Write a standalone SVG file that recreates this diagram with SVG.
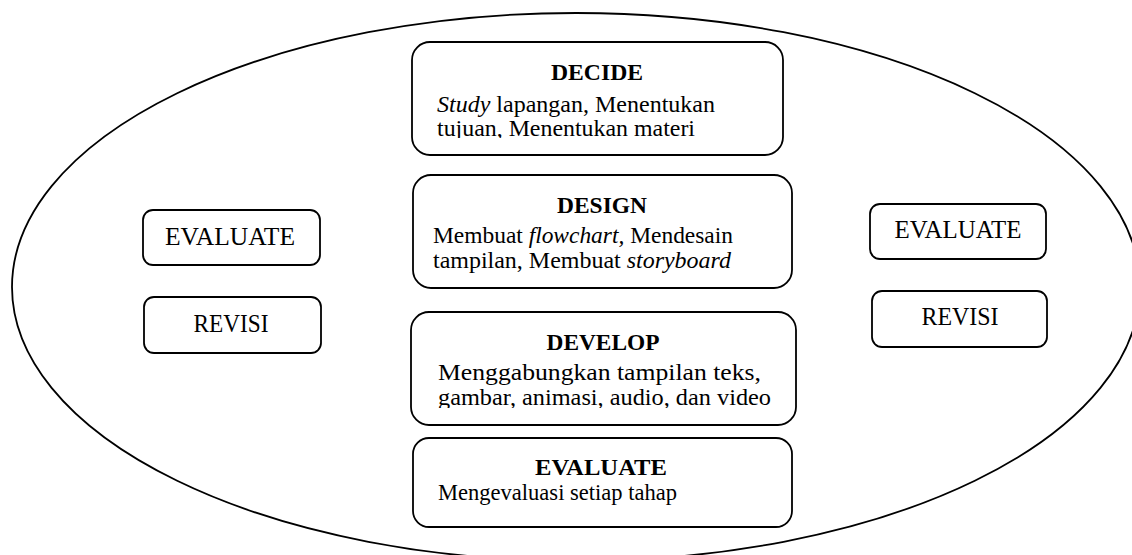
<svg xmlns="http://www.w3.org/2000/svg" width="1132" height="555" viewBox="0 0 1132 555">
<style>
.box{fill:#fff;stroke:#000;stroke-width:1.8}
.t{font-family:"Liberation Serif","Times New Roman",serif;fill:#000}
.title{font-size:24px;font-weight:bold;text-anchor:middle}
.body{font-size:24px}
.side{font-size:25px;text-anchor:middle}
.i{font-style:italic}
</style>
<defs>
<clipPath id="clipDecide"><rect x="400" y="30" width="400" height="108"/></clipPath>
<clipPath id="clipDevelop"><rect x="400" y="300" width="400" height="108"/></clipPath>
</defs>
<rect width="1132" height="555" fill="#fff"/>
<g id="outer">
<ellipse cx="576" cy="287" rx="564" ry="274" fill="none" stroke="#000" stroke-width="1.8"/>
</g>
<g id="connectors"></g>
<g id="decide">
<rect class="box" x="412" y="42" width="371" height="113" rx="18"/>
<text class="t title" x="597" y="80" textLength="92" lengthAdjust="spacingAndGlyphs">DECIDE</text>
<g clip-path="url(#clipDecide)">
<text class="t body" x="437" y="112" textLength="278" lengthAdjust="spacingAndGlyphs"><tspan class="i">Study</tspan> lapangan, Menentukan</text>
<text class="t body" x="437" y="136" textLength="258" lengthAdjust="spacingAndGlyphs">tujuan, Menentukan materi</text>
</g>
</g>
<g id="design">
<rect class="box" x="413" y="175" width="379" height="113" rx="18"/>
<text class="t title" x="602" y="213" textLength="90" lengthAdjust="spacingAndGlyphs">DESIGN</text>
<text class="t body" x="433" y="243" textLength="300" lengthAdjust="spacingAndGlyphs">Membuat <tspan class="i">flowchart,</tspan> Mendesain</text>
<text class="t body" x="433" y="268" textLength="298" lengthAdjust="spacingAndGlyphs">tampilan, Membuat <tspan class="i">storyboard</tspan></text>
</g>
<g id="develop">
<rect class="box" x="411" y="312" width="385" height="113" rx="18"/>
<text class="t title" x="603" y="350" textLength="113" lengthAdjust="spacingAndGlyphs">DEVELOP</text>
<g clip-path="url(#clipDevelop)">
<text class="t body" x="438" y="380" textLength="323" lengthAdjust="spacingAndGlyphs">Menggabungkan tampilan teks,</text>
<text class="t body" x="438" y="405" textLength="333" lengthAdjust="spacingAndGlyphs">gambar, animasi, audio, dan video</text>
</g>
</g>
<g id="evaluate">
<rect class="box" x="413" y="438" width="379" height="89" rx="16"/>
<text class="t title" x="601" y="475" textLength="132" lengthAdjust="spacingAndGlyphs">EVALUATE</text>
<text class="t body" x="438" y="500" textLength="239" lengthAdjust="spacingAndGlyphs">Mengevaluasi setiap tahap</text>
</g>
<g id="evaluate-left">
<rect class="box" x="143" y="210" width="177" height="55" rx="10"/>
<text class="t side" x="230" y="245" textLength="130" lengthAdjust="spacingAndGlyphs">EVALUATE</text>
</g>
<g id="revisi-left">
<rect class="box" x="144" y="297" width="177" height="56" rx="10"/>
<text class="t side" x="231" y="332" textLength="75" lengthAdjust="spacingAndGlyphs">REVISI</text>
</g>
<g id="evaluate-right">
<rect class="box" x="870" y="204" width="176" height="55" rx="10"/>
<text class="t side" x="958" y="238" textLength="127" lengthAdjust="spacingAndGlyphs">EVALUATE</text>
</g>
<g id="revisi-right">
<rect class="box" x="872" y="291" width="175" height="56" rx="10"/>
<text class="t side" x="960" y="325" textLength="77" lengthAdjust="spacingAndGlyphs">REVISI</text>
</g>
</svg>
